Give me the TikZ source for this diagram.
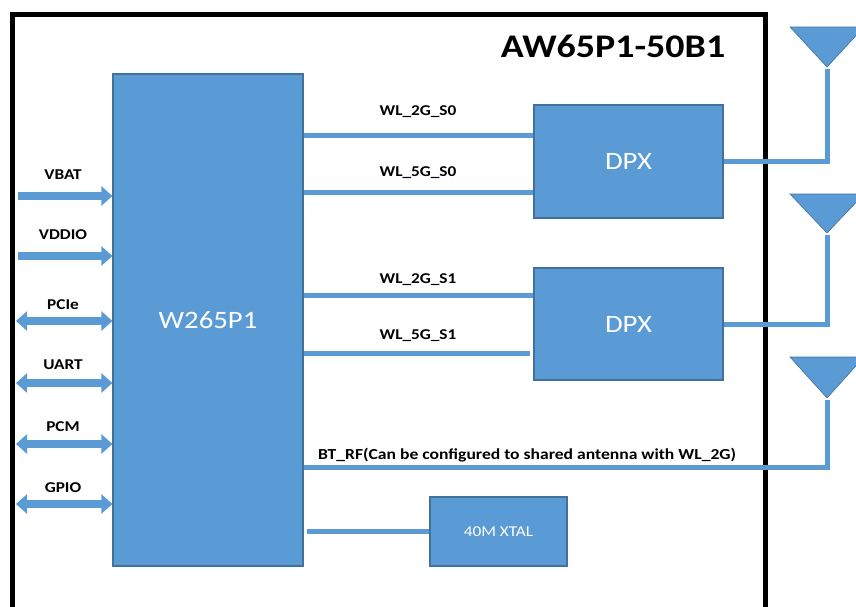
\documentclass[tikz,border=0pt]{standalone}
\usepackage{fontspec}
\setmainfont{Carlito}[FakeStretch=1.15]
\usetikzlibrary{arrows.meta}
\definecolor{ofblue}{HTML}{5B9BD5}
\definecolor{ofedge}{HTML}{41719C}
\tikzset{
  blk/.style={draw=ofedge, line width=1.2pt, fill=ofblue, text=white, inner sep=0pt},
  sig/.style={draw=ofblue, line width=5pt},
  lbl/.style={font=\fontsize{15}{17}\selectfont\bfseries, text=black, inner sep=0pt},
  inarrow/.style={draw=ofblue, line width=8pt, -{Triangle[length=11pt,width=19pt]}},
  bidarrow/.style={draw=ofblue, line width=8pt, {Triangle[length=11pt,width=19pt]}-{Triangle[length=11pt,width=19pt]}},
  antenna/.style={fill=ofblue, draw=ofedge, line width=0.6pt}
}
\begin{document}
\begin{tikzpicture}[x=1pt,y=-1pt]
\clip (0,0) rectangle (856,606);
\fill[white] (0,0) rectangle (856,606);
% outer frame
\draw[line width=5pt, black] (12,630) -- (12,14) -- (765,14) -- (765,630);
\node[font=\fontsize{33}{36}\selectfont\bfseries, inner sep=0pt] (title) at (613,46) {AW65P1-50B1};

% blocks
\node[blk, minimum width=190pt, minimum height=492pt, font=\fontsize{25}{28}\selectfont] (chip) at (208,320) {W265P1};
\node[blk, minimum width=189pt, minimum height=113pt, font=\fontsize{25}{28}\selectfont] (dpx1) at (628.5,161.5) {DPX};
\node[blk, minimum width=189pt, minimum height=112pt, font=\fontsize{25}{28}\selectfont] (dpx2) at (628.5,324) {DPX};
\node[blk, minimum width=137pt, minimum height=69pt, font=\fontsize{15}{17}\selectfont] (xtal) at (498.5,531.5) {40M XTAL};

% antennas
\coordinate (ant1) at (827,67);
\coordinate (ant2) at (827,233);
\coordinate (ant3) at (827,398);
\fill[antenna] (ant1) -- (790,27) -- (864,27) -- cycle;
\fill[antenna] (ant2) -- (790,194) -- (864,194) -- cycle;
\fill[antenna] (ant3) -- (790,357) -- (864,357) -- cycle;

% RF lines
\draw[sig] (chip.east |- 0,135) -- (dpx1.west |- 0,135);
\draw[sig] (chip.east |- 0,192) -- (dpx1.west |- 0,192);
\draw[sig] (chip.east |- 0,295) -- (dpx2.west |- 0,295);
\draw[sig] (chip.east |- 0,353) -- ([xshift=-3pt]dpx2.west |- 0,353);
\draw[sig] (dpx1.east) -| ([yshift=-2pt]ant1);
\draw[sig] (dpx2.east) -| ([yshift=-2pt]ant2);
\draw[sig] (chip.east |- 0,467) -| ([yshift=-2pt]ant3);
\draw[sig] ([xshift=3pt]chip.east |- xtal.west) -- (xtal.west);

\node[lbl] (l2g0) at (418,112) {WL\_2G\_S0};
\node[lbl] (l5g0) at (418,173) {WL\_5G\_S0};
\node[lbl] (l2g1) at (418,280) {WL\_2G\_S1};
\node[lbl] (l5g1) at (418,336) {WL\_5G\_S1};
\node[lbl, anchor=west, font=\fontsize{15.3}{17}\selectfont\bfseries] (lbt) at (318,455) {BT\_RF(Can be configured to shared antenna with WL\_2G)};

% left interface arrows
\coordinate (vbatL) at (18,196);
\coordinate (vddioL) at (18,256);
\coordinate (pcieL) at (16,321);
\coordinate (uartL) at (16,383);
\coordinate (pcmL) at (16,444);
\coordinate (gpioL) at (16,504);
\draw[inarrow] (vbatL) -- (chip.west |- vbatL);
\draw[inarrow] (vddioL) -- (chip.west |- vddioL);
\draw[bidarrow] (pcieL) -- (chip.west |- pcieL);
\draw[bidarrow] (uartL) -- (chip.west |- uartL);
\draw[bidarrow] (pcmL) -- (chip.west |- pcmL);
\draw[bidarrow] (gpioL) -- (chip.west |- gpioL);

\node[lbl] (lvbat) at (63,175) {VBAT};
\node[lbl] (lvddio) at (63,235) {VDDIO};
\node[lbl] (lpcie) at (63,305) {PCIe};
\node[lbl] (luart) at (63,365) {UART};
\node[lbl] (lpcm) at (63,427) {PCM};
\node[lbl] (lgpio) at (63,488) {GPIO};
\end{tikzpicture}
\end{document}
